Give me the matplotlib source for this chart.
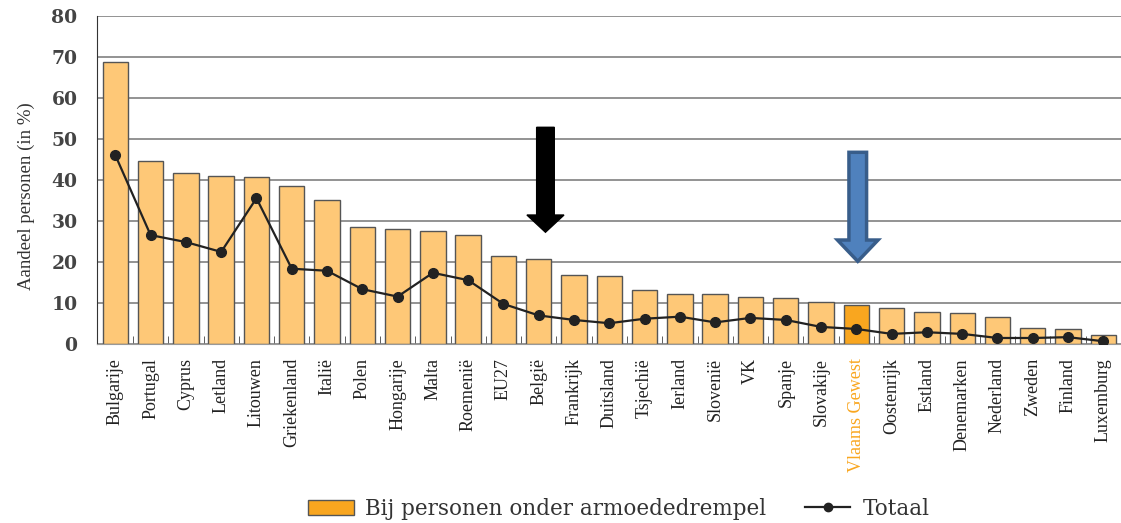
"""
plot.py
Armoede bij personen: landen vergeleken (staafjes + lijn voor totaal).
"""

import matplotlib.pyplot as plt
from matplotlib.lines import Line2D
from matplotlib.patches import Patch, FancyArrow

landen = [
    "Bulgarije", "Portugal", "Cyprus", "Letland", "Litouwen", "Griekenland",
    "Italië", "Polen", "Hongarije", "Malta", "Roemenië", "EU27", "België",
    "Frankrijk", "Duitsland", "Tsjechië", "Ierland", "Slovenië", "VK",
    "Spanje", "Slovakije", "Vlaams Gewest", "Oostenrijk", "Estland",
    "Denemarken", "Nederland", "Zweden", "Finland", "Luxemburg",
]
onder_drempel = [
    68.8, 44.7, 41.8, 41.0, 40.8, 38.6, 35.2, 28.5, 28.0, 27.6, 26.6, 21.5,
    20.8, 16.8, 16.6, 13.3, 12.3, 12.3, 11.4, 11.2, 10.2, 9.5, 8.8, 7.8,
    7.5, 6.6, 3.9, 3.7, 2.2,
]
totaal = [
    46.1, 26.6, 24.9, 22.5, 35.6, 18.4, 17.9, 13.4, 11.6, 17.4, 15.6, 9.8,
    7.0, 5.9, 5.1, 6.2, 6.7, 5.3, 6.4, 5.9, 4.2, 3.7, 2.5, 2.9, 2.5, 1.5,
    1.5, 1.7, 0.7,
]
highlight = "Vlaams Gewest"

BAR = "#fec877"
BAR_HL = "#f9a61f"

fig = plt.figure(figsize=(11.21, 5.23), dpi=100)
ax = fig.add_axes([0.0865, 0.342, 0.9135, 0.627])

x = list(range(len(landen)))
colors = [BAR_HL if l == highlight else BAR for l in landen]
ax.bar(x, onder_drempel, width=0.72, color=colors, edgecolor="#555555",
       linewidth=1.0, zorder=2)
ax.plot(x, totaal, color="#222222", linewidth=1.6, marker="o",
        markersize=7, zorder=3)

# arrows pointing at België and Vlaams Gewest
ax.add_patch(FancyArrow(12.19, 52.9, 0, -25.6, width=0.5, head_width=1.05,
                        head_length=4.2, length_includes_head=True,
                        color="black", zorder=4))
ax.add_patch(FancyArrow(21.04, 46.8, 0, -26.6, width=0.5, head_width=1.15,
                        head_length=5.2, length_includes_head=True,
                        facecolor="#4f81bd", edgecolor="#385d8a",
                        linewidth=2.5, zorder=4))

ax.set_xlim(-0.52, 28.27)
ax.set_ylim(0, 80)
ax.set_yticks(range(0, 81, 10))
ax.grid(axis="y", color="#808080", linewidth=1.2, zorder=0)
ax.set_axisbelow(True)

ax.set_xticks(x)
ax.set_xticklabels(landen, rotation=90, family="Liberation Serif",
                   fontsize=13, color="#222222")
ax.get_xticklabels()[landen.index(highlight)].set_color(BAR_HL)
ax.set_xticks([i + 0.5 for i in x], minor=True)
ax.tick_params(axis="x", which="major", length=0, pad=10)
ax.tick_params(axis="x", which="minor", direction="in", length=6,
               color="#444444")
ax.tick_params(axis="y", length=0, pad=14, labelsize=13.5,
               labelcolor="#444444")
for t in ax.get_yticklabels():
    t.set_family("DejaVu Serif")
    t.set_fontweight("bold")

for s in ["top", "right"]:
    ax.spines[s].set_visible(False)
ax.spines["left"].set_color("#333333")
ax.spines["bottom"].set_color("#999999")

ax.set_ylabel("Aandeel personen (in %)", family="Liberation Serif",
              fontsize=13.5, color="#333333")
ax.yaxis.set_label_coords(-0.061, 0.45)

handles = [
    Patch(facecolor=BAR_HL, edgecolor="#555555",
          label="Bij personen onder armoededrempel"),
    Line2D([], [], color="#222222", marker="o", markersize=6,
           linewidth=1.6, label="Totaal"),
]
fig.legend(handles=handles, loc="center", bbox_to_anchor=(0.552, 0.027),
           ncol=2, frameon=False,
           prop={"family": "DejaVu Serif", "size": 15.5},
           handlelength=2.1, handletextpad=0.55, columnspacing=1.8,
           labelcolor="#333333")

fig.savefig("out.png", dpi=100)
